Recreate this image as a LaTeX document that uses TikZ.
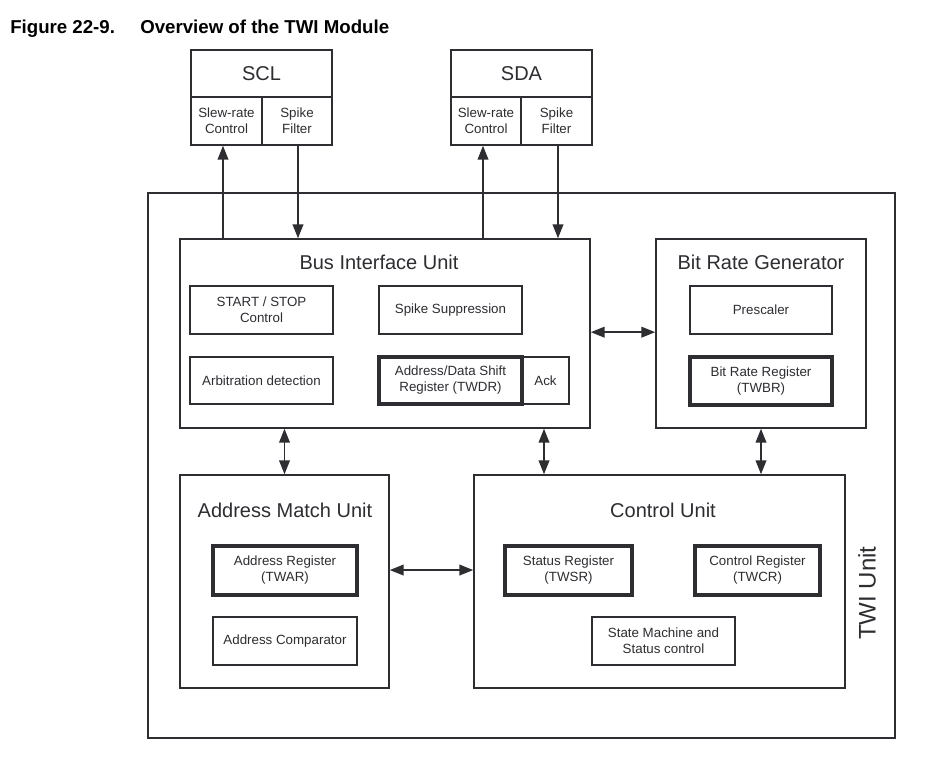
\documentclass[tikz,border=0pt]{standalone}
\usepackage{fontspec}
\setmainfont{Liberation Sans}
\usetikzlibrary{arrows.meta}
\definecolor{ink}{RGB}{45,45,50}
\begin{document}
\begin{tikzpicture}[x=0.75pt,y=-0.75pt,
  box/.style={draw=ink, line width=1.1pt, inner sep=0pt, align=center, text=ink,
    font=\fontsize{10}{12}\selectfont},
  thickbox/.style={box, line width=2.6pt},
  sz/.style 2 args={minimum width=#1*0.75pt, minimum height=#2*0.75pt},
  ttl/.style={text=ink, inner sep=0pt, font=\fontsize{15}{18}\selectfont},
  conn/.style={draw=ink, line width=1.4pt},
  tip/.tip={Triangle[length=10.5pt,width=8pt]},
  arr/.style={conn, -tip},
  dbl/.style={conn, tip-tip}]
\path[use as bounding box, fill=white] (0,0) rectangle (938,768);

% figure caption
\node[anchor=base west, inner sep=0pt, font=\bfseries\fontsize{14}{16}\selectfont] (fig) at (10,33) {Figure 22-9.};
\node[anchor=base west, inner sep=0pt, font=\bfseries\fontsize{14}{16}\selectfont] (figt) at (140,33) {Overview of the TWI Module};

% outer TWI unit
\node[box, sz={747}{545}] (twi) at (521.5,465.5) {};
\node[rotate=90, text=ink, inner sep=0pt, font=\fontsize{18}{20}\selectfont] (twit) at (867,593) {TWI Unit};

% SCL pad
\node[box, sz={141}{47}, font=\fontsize{15}{18}\selectfont] (scl) at (261.5,73.5) {SCL};
\node[box, sz={71}{48}] (sclslew) at (226.5,121) {Slew-rate\\Control};
\node[box, sz={70}{48}] (sclspike) at (297,121) {Spike\\Filter};

% SDA pad
\node[box, sz={141}{47}, font=\fontsize{15}{18}\selectfont] (sda) at (521.5,73.5) {SDA};
\node[box, sz={70}{48}] (sdaslew) at (486,121) {Slew-rate\\Control};
\node[box, sz={71}{48}] (sdaspike) at (556.5,121) {Spike\\Filter};

% Bus Interface Unit
\node[box, sz={410}{189}] (biu) at (385,333.5) {};
\node[ttl] (biut) at (379,262) {Bus Interface Unit};
\node[box, sz={143}{48}] (ssc) at (261.5,310) {START / STOP\\Control};
\node[box, sz={143}{48}] (spk) at (450.5,310) {Spike Suppression};
\node[box, sz={143}{47}] (arb) at (261.5,380.5) {Arbitration detection};
\node[box, sz={47}{47}] (ack) at (545.5,380.5) {Ack};
\node[thickbox, sz={143}{47}] (twdr) at (450.5,380.5) {Address/Data Shift\\Register (TWDR)};

% Bit Rate Generator
\node[box, sz={210}{189}] (brg) at (761,333.5) {};
\node[ttl] (brgt) at (761,262) {Bit Rate Generator};
\node[box, sz={142}{48}] (pre) at (761,310) {Prescaler};
\node[thickbox, sz={142}{48}] (twbr) at (761,381) {Bit Rate Register\\(TWBR)};

% Address Match Unit
\node[box, sz={209}{213}] (amu) at (284.5,581.5) {};
\node[ttl] (amut) at (285,510) {Address Match Unit};
\node[thickbox, sz={144}{49}] (twar) at (285,570.5) {Address Register\\(TWAR)};
\node[box, sz={144}{48}] (acmp) at (285,641) {Address Comparator};

% Control Unit
\node[box, sz={371}{213}] (cu) at (659.5,581.5) {};
\node[ttl] (cut) at (663,510) {Control Unit};
\node[thickbox, sz={127}{49}] (twsr) at (568.5,570.5) {Status Register\\(TWSR)};
\node[thickbox, sz={125}{49}] (twcr) at (757.5,570.5) {Control Register\\(TWCR)};
\node[box, sz={143}{48}] (fsm) at (663.5,641) {State Machine and\\Status control};

% helper x positions
\coordinate (xsclo) at (223,0);
\coordinate (xscli) at (298,0);
\coordinate (xsdao) at (483,0);
\coordinate (xsdai) at (558,0);
\coordinate (xmid) at (544,0);

% pad connectors
\draw[arr] (xsclo |- biu.north) -- (xsclo |- sclslew.south);
\draw[arr] (xscli |- sclspike.south) -- (xscli |- biu.north);
\draw[arr] (xsdao |- biu.north) -- (xsdao |- sdaslew.south);
\draw[arr] (xsdai |- sdaspike.south) -- (xsdai |- biu.north);

% internal connectors
\draw[dbl] ([yshift=1pt]biu.east) -- ([yshift=1pt]brg.west);
\draw[dbl] (amu.north |- biu.south) -- (amu.north);
\draw[dbl] (xmid |- biu.south) -- (xmid |- cu.north);
\draw[dbl] (brg.south) -- (brg.south |- cu.north);
\draw[dbl] ([yshift=8.6pt]amu.east) -- ([yshift=8.6pt]cu.west);
\end{tikzpicture}
\end{document}
